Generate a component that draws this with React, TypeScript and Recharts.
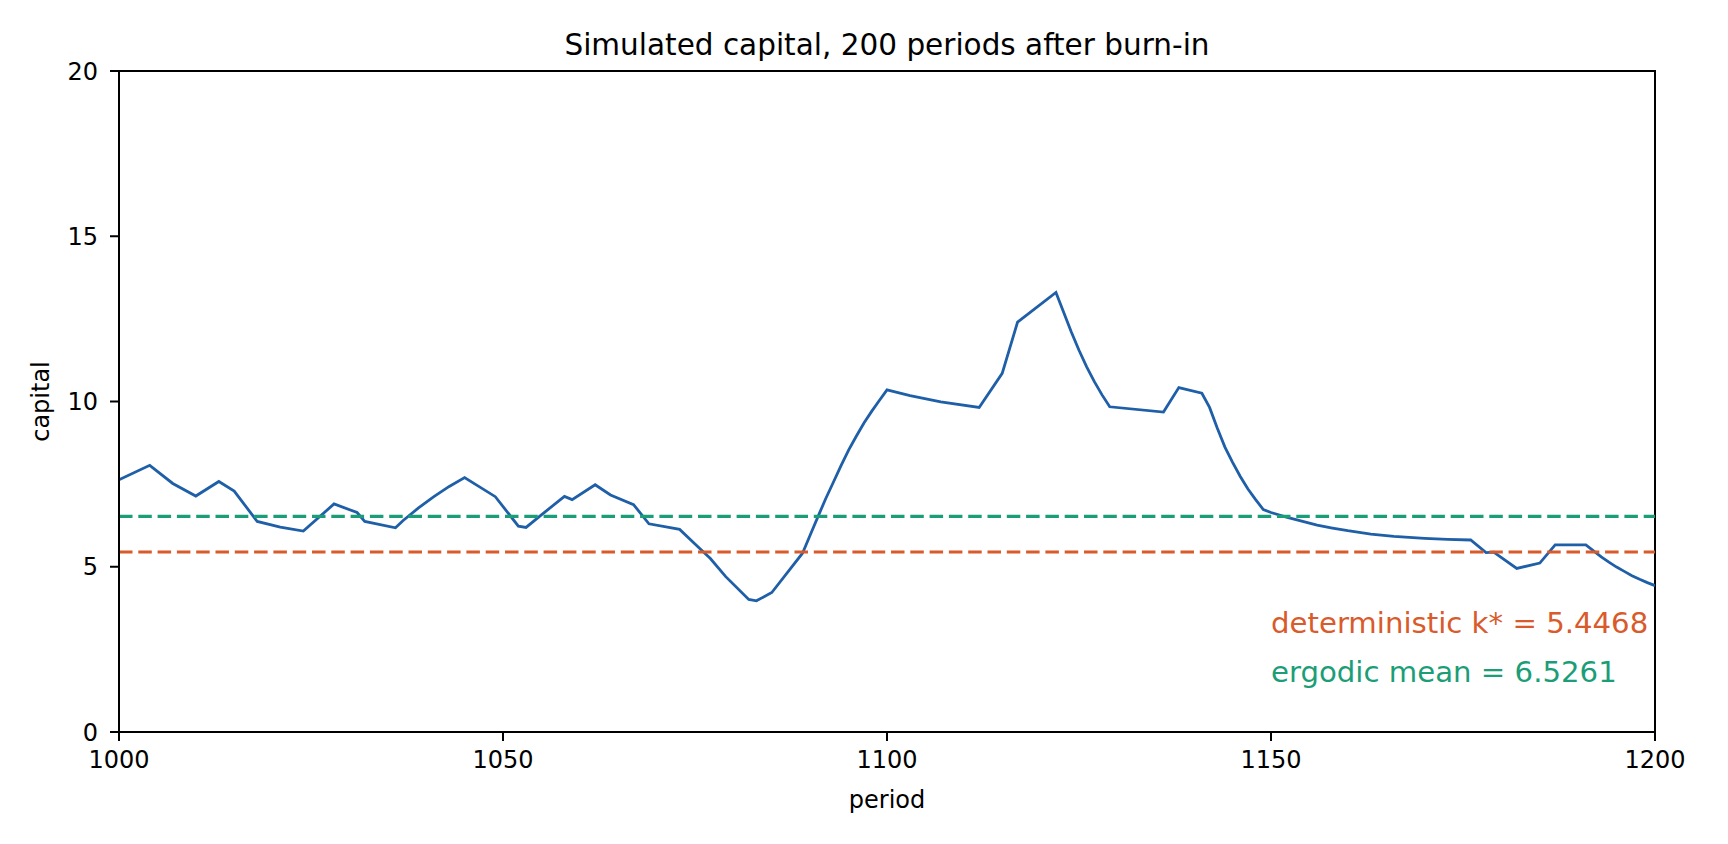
import React from 'react';
import { LineChart, Line, XAxis, YAxis, ReferenceLine, ReferenceArea } from 'recharts';

// values, period -> capital
const periods = [
  1000, 1004, 1007, 1010, 1013, 1015, 1018, 1021, 1024, 1028, 1031, 1032, 1036, 1037, 1039, 1041,
  1043, 1045, 1049, 1052, 1053, 1055, 1058, 1059, 1062, 1064, 1067, 1069, 1073, 1075, 1077, 1079,
  1082, 1083, 1085, 1089, 1090, 1091, 1092, 1093, 1094, 1095, 1096, 1097, 1098, 1099, 1100, 1103,
  1107, 1112, 1115, 1117, 1122, 1124, 1125, 1126, 1127, 1128, 1129, 1136, 1138, 1141, 1142, 1143,
  1144, 1145, 1146, 1147, 1148, 1149, 1150, 1152, 1154, 1156, 1158, 1160, 1163, 1166, 1170, 1173,
  1176, 1178, 1179, 1182, 1185, 1187, 1191, 1193, 1194, 1195, 1196, 1197, 1198, 1199, 1200,
];
const capital = [
  7.63, 8.07, 7.52, 7.14, 7.58, 7.29, 6.37, 6.2, 6.08, 6.9, 6.64, 6.37, 6.18, 6.4, 6.78, 7.12,
  7.43, 7.7, 7.12, 6.23, 6.19, 6.57, 7.13, 7.03, 7.48, 7.17, 6.88, 6.3, 6.13, 5.69, 5.25, 4.7,
  4.01, 3.97, 4.22, 5.41, 5.96, 6.51, 7.05, 7.55, 8.05, 8.53, 8.95, 9.35, 9.7, 10.03, 10.35, 10.18,
  9.99, 9.82, 10.85, 12.4, 13.3, 12.1, 11.55, 11.05, 10.6, 10.2, 9.84, 9.68, 10.42, 10.25, 9.82, 9.2,
  8.62, 8.16, 7.73, 7.35, 7.03, 6.73, 6.64, 6.5, 6.38, 6.26, 6.17, 6.09, 5.99, 5.92, 5.86, 5.83,
  5.81, 5.43, 5.44, 4.95, 5.11, 5.66, 5.66, 5.3, 5.14, 4.99, 4.86, 4.73, 4.62, 4.52, 4.43,
];

const xTicks = [1000, 1050, 1100, 1150, 1200];
const yTicks = [0, 5, 10, 15, 20];

const kStar = 5.4468;
const ergodicMean = 6.5261;

const data = periods.map((p, i) => ({ period: p, capital: capital[i] }));

const W = 1728;
const H = 844;
const plot = { left: 119, right: 1655, top: 71, bottom: 732 };
const FONT = '"DejaVu Sans", sans-serif';

const BLUE = '#1f5fa8';
const ORANGE = '#d95a2b';
const GREEN = '#1b9e77';

// data -> pixel, only used to place the text annotations
const px = (v: number) => plot.left + ((v - 1000) / 200) * (plot.right - plot.left);
const py = (v: number) => plot.bottom - (v / 20) * (plot.bottom - plot.top);

export default function App() {
  const tick = { fontSize: 24, fill: '#000', fontFamily: FONT };
  return (
    <div style={{ position: 'absolute', left: 0, top: 0, width: W, height: H, background: '#fff' }}>
      <LineChart
        width={W}
        height={H}
        data={data}
        margin={{ top: plot.top, right: W - plot.right, bottom: H - plot.bottom - 60, left: plot.left - 80 }}
      >
        <XAxis
          dataKey="period"
          type="number"
          domain={[1000, 1200]}
          ticks={xTicks}
          height={60}
          tick={tick}
          tickSize={9}
          tickMargin={10}
          tickLine={{ stroke: '#000', strokeWidth: 2 }}
          axisLine={{ stroke: '#000', strokeWidth: 2 }}
          allowDataOverflow
        />
        <YAxis
          type="number"
          domain={[0, 20]}
          ticks={yTicks}
          width={80}
          tick={tick}
          tickSize={9}
          tickMargin={12}
          tickLine={{ stroke: '#000', strokeWidth: 2 }}
          axisLine={{ stroke: '#000', strokeWidth: 2 }}
          allowDataOverflow
        />
        <ReferenceArea x1={1000} x2={1200} y1={0} y2={20} fill="none" fillOpacity={0} stroke="#000" strokeWidth={2} />
        <Line
          dataKey="capital"
          type="linear"
          stroke={BLUE}
          strokeWidth={2.8}
          dot={false}
          isAnimationActive={false}
        />
        <ReferenceLine y={ergodicMean} stroke={GREEN} strokeWidth={3.2} strokeDasharray="13.5 5.8" />
        <ReferenceLine y={kStar} stroke={ORANGE} strokeWidth={3.2} strokeDasharray="13.5 5.8" />
      </LineChart>
      <svg
        width={W}
        height={H}
        style={{ position: 'absolute', left: 0, top: 0, pointerEvents: 'none' }}
        fontFamily={FONT}
      >
        <text x={(plot.left + plot.right) / 2} y={55} textAnchor="middle" fontSize={29.5} fill="#000">
          Simulated capital, 200 periods after burn-in
        </text>
        <text x={(plot.left + plot.right) / 2} y={808} textAnchor="middle" fontSize={24} fill="#000">
          period
        </text>
        <text
          x={49}
          y={(plot.top + plot.bottom) / 2}
          textAnchor="middle"
          fontSize={24}
          fill="#000"
          transform={`rotate(-90, 49, ${(plot.top + plot.bottom) / 2})`}
        >
          capital
        </text>
        <text x={px(1150)} y={py(3)} fontSize={29.2} fill={ORANGE}>
          deterministic k* = {kStar.toFixed(4)}
        </text>
        <text x={px(1150)} y={py(1.5)} fontSize={29.2} fill={GREEN}>
          ergodic mean = {ergodicMean.toFixed(4)}
        </text>
      </svg>
    </div>
  );
}
